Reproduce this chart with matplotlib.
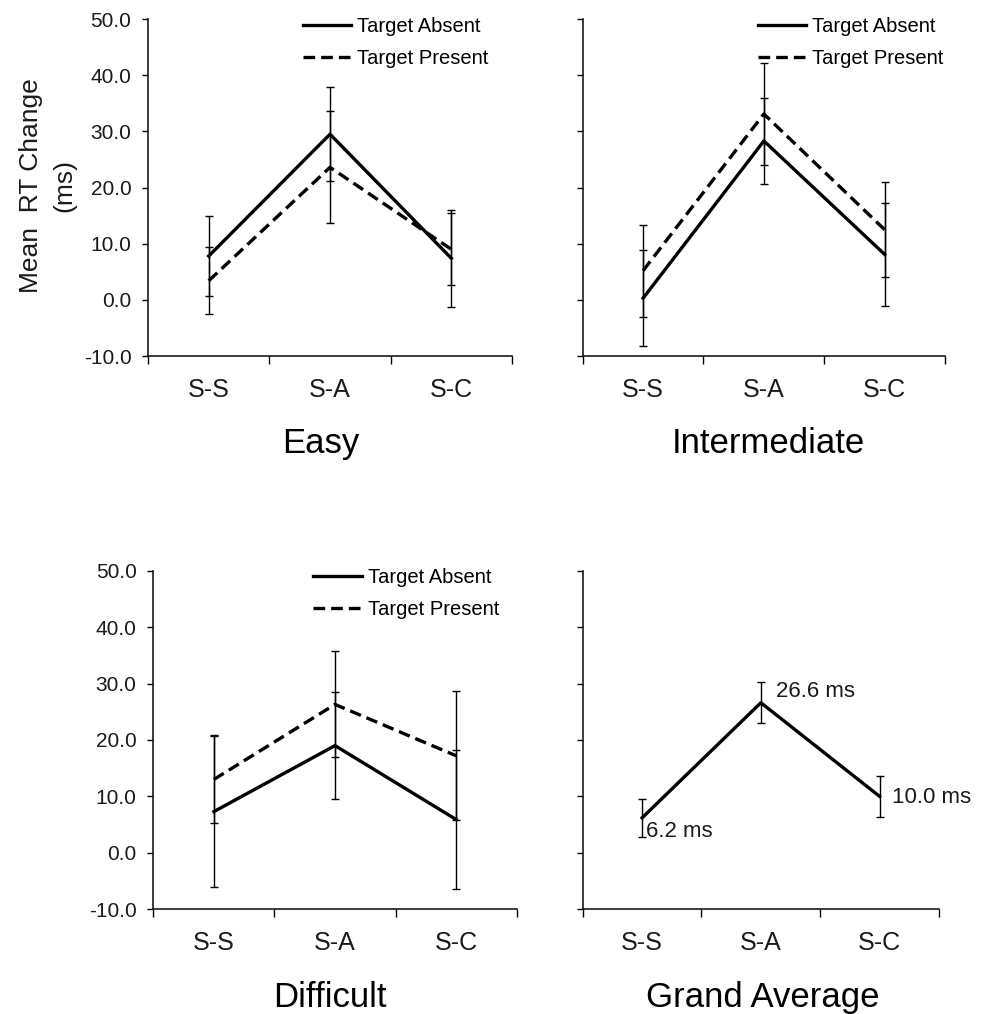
import numpy as np
import matplotlib
matplotlib.use('Agg')
import matplotlib.pyplot as plt

plt.rcParams['font.family'] = ['Liberation Sans', 'DejaVu Sans']

# conditions on the x axis
conds = ['S-S', 'S-A', 'S-C']

# mean RT change (ms) per panel
easy_absent = [7.8, 29.5, 7.4]
easy_absent_err = [7.2, 8.4, 8.6]
easy_present = [3.4, 23.6, 9.0]
easy_present_err = [6.0, 10.0, 6.4]

inter_absent = [0.3, 28.3, 8.1]
inter_absent_err = [8.6, 7.7, 9.2]
inter_present = [5.2, 33.1, 12.5]
inter_present_err = [8.2, 9.1, 8.4]

diff_absent = [7.3, 19.0, 5.9]
diff_absent_err = [13.4, 9.5, 12.3]
diff_present = [13.0, 26.3, 17.2]
diff_present_err = [7.8, 9.4, 11.4]

grand = [6.2, 26.6, 10.0]
grand_err = [3.4, 3.6, 3.7]
grand_labels = ['6.2 ms', '26.6 ms', '10.0 ms']

yticks = [-10, 0, 10, 20, 30, 40, 50]

fig = plt.figure(figsize=(9.85, 10.14), dpi=100)
ax1 = fig.add_axes([0.1503, 0.6489, 0.3695, 0.3323])
ax2 = fig.add_axes([0.5916, 0.6489, 0.3678, 0.3323])
ax3 = fig.add_axes([0.1556, 0.1033, 0.3690, 0.3339])
ax4 = fig.add_axes([0.5916, 0.1033, 0.3617, 0.3339])

x = np.arange(1, 4)
lw = 2.4
err_kw = dict(ecolor='black', elinewidth=1.0, capsize=3.2, capthick=1.0)


def style(ax, show_labels):
    ax.set_xlim(0.5, 3.5)
    ax.set_ylim(-10, 50)
    ax.set_yticks(yticks)
    if show_labels:
        ax.set_yticklabels(['%.1f' % v for v in yticks], fontsize=15, color='#1a1a1a')
    else:
        ax.set_yticklabels([])
    ax.tick_params(axis='y', direction='out', length=4, width=1, pad=8)
    ax.set_xticks([0.5, 1.5, 2.5, 3.5])
    ax.set_xticklabels([])
    ax.tick_params(axis='x', which='major', direction='out', length=6, width=1)
    ax.set_xticks(x, minor=True)
    ax.set_xticklabels(conds, minor=True, fontsize=18, color='#1a1a1a')
    ax.tick_params(axis='x', which='minor', length=0, pad=16)
    for s in ['top', 'right']:
        ax.spines[s].set_visible(False)
    for s in ['left', 'bottom']:
        ax.spines[s].set_linewidth(1.2)
        ax.spines[s].set_color('#1a1a1a')


def two_lines(ax, a, ae, p, pe, leg_x):
    ax.errorbar(x, a, yerr=ae, color='black', lw=lw, label='Target Absent', **err_kw)
    ax.errorbar(x, p, yerr=pe, color='black', lw=lw, dashes=(3.5, 1.8),
                label='Target Present', **err_kw)
    h, l = ax.get_legend_handles_labels()
    h = [hh[0] for hh in h]
    ax.legend(h, l, loc='upper left', bbox_to_anchor=(leg_x, 1.007), frameon=False,
              fontsize=14.5, borderpad=0, borderaxespad=0, handlelength=2.4,
              handletextpad=0.3, labelspacing=0.65)


two_lines(ax1, easy_absent, easy_absent_err, easy_present, easy_present_err, 0.425)
two_lines(ax2, inter_absent, inter_absent_err, inter_present, inter_present_err, 0.484)
two_lines(ax3, diff_absent, diff_absent_err, diff_present, diff_present_err, 0.44)

ax4.errorbar(x, grand, yerr=grand_err, color='black', lw=lw, **err_kw)
offsets = [(3, -10), (11, 8), (9, -1)]
for xi, yi, txt, off in zip(x, grand, grand_labels, offsets):
    ax4.annotate(txt, (xi, yi), xytext=off, textcoords='offset points',
                 ha='left', va='center', fontsize=16, color='#1a1a1a')

style(ax1, True)
style(ax2, False)
style(ax3, True)
style(ax4, False)

# panel titles under each plot
fig.text(0.326, 0.5533, 'Easy', ha='center', va='baseline', fontsize=25)
fig.text(0.780, 0.5533, 'Intermediate', ha='center', va='baseline', fontsize=25)
fig.text(0.335, 0.0069, 'Difficult', ha='center', va='baseline', fontsize=25)
fig.text(0.774, 0.0069, 'Grand Average', ha='center', va='baseline', fontsize=25)

fig.text(0.031, 0.8166, 'Mean  RT Change', rotation=90, ha='center', va='center',
         fontsize=19, color='#1a1a1a')
fig.text(0.065, 0.8166, '(ms)', rotation=90, ha='center', va='center',
         fontsize=19, color='#1a1a1a')

fig.savefig('out.png', dpi=100)
